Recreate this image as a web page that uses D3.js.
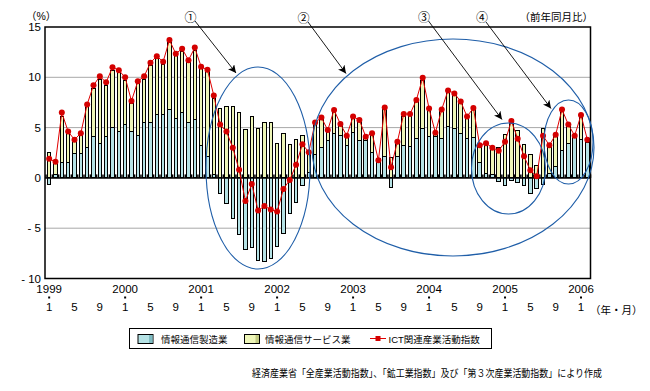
<!DOCTYPE html>
<html>
<head>
<meta charset="utf-8">
<script src="https://cdn.jsdelivr.net/npm/d3@7"></script>
<style>
body { margin: 0; background: #fff; }
svg text { font-family: "Liberation Sans", "Noto Sans CJK JP", sans-serif; fill: #000; }
</style>
</head>
<body>
<svg id="chart" width="650" height="391"></svg>
<script>
// monthly categories, Jan 1999 - Feb 2006
const monthList = d3.timeMonth.range(new Date(1999, 0, 1), new Date(2006, 2, 1))
const yTicks = [-10, -5, 0, 5, 10, 15]
const monthTickNumbers = [1, 5, 9]
const seriesNames = ['情報通信製造業', '情報通信サービス業', 'ICT関連産業活動指数']

// 情報通信製造業 (contribution, %)
const manufacturing = [
  -0.66, 0.33, 1.5, 1.5, 2.4, 2.4, 3.0, 4.1, 3.4, 4.1, 5.0, 4.65,
  5.35, 4.65, 4.25, 5.55, 5.55, 6.3, 6.3, 6.8, 5.9, 6.5, 5.55, 5.8,
  3.2, 2.15, 0.33, -1.6, -2.5, -4.05, -5.65, -7.1, -6.9, -8.2, -8.3, -8.0,
  -6.8, -5.55, -3.55, -2.4, -0.75, 0.5, 2.3, 3.0, 3.7, 4.45, 4.25, 3.25,
  4.55, 3.75, 3.75, 2.5, 1.6, 2.1, -1.0, 2.1, 3.2, 3.1, 3.95, 4.9,
  4.1, 4.1, 3.9, 5.1, 4.9, 4.4, 3.95, 4.0, 1.5, 0.43, 0.3, -0.4,
  -0.75, -0.3, -0.5, -0.75, -1.55, -1.1, -0.65, 0.4, 1.15, 2.7, 3.45, 4.2,
  3.8, 3.55
]
// 情報通信サービス業 (contribution, %)
const services = [
  2.57, 1.07, 4.6, 2.95, 1.2, 1.9, 4.1, 4.8, 6.4, 5.1, 5.7, 5.85,
  4.35, 2.75, 5.15, 4.25, 5.65, 5.6, 5.0, 6.7, 6.3, 6.1, 5.95, 6.9,
  7.7, 8.5, 7.6, 6.9, 7.1, 7.1, 6.5, 4.8, 6.1, 4.95, 5.5, 5.5,
  3.45, 4.45, 3.35, 3.8, 4.25, 2.2, 3.0, 2.8, 0.9, 2.15, 0.95, 0.75,
  1.35, 1.85, 0.25, 1.8, 0.3, 4.7, 2.0, 1.35, 2.9, 3.1, 3.65, 4.8,
  2.6, 0.3, 2.7, 3.4, 3.3, 3.0, 1.95, 2.8, 1.6, 3.07, 2.8, 3.0,
  4.3, 5.8, 4.7, 3.3, 2.3, 1.2, 4.9, 3.0, 3.05, 4.0, 1.75, 0.05,
  2.3, 0.15
]
// ICT関連産業活動指数 (前年同月比, %)
const ictIndex = [
  1.9, 1.6, 6.5, 4.6, 3.8, 4.45, 7.3, 9.2, 10.1, 9.5, 11.0, 10.7,
  10.0, 7.65, 9.6, 10.1, 11.45, 12.1, 11.55, 13.7, 12.35, 12.85, 11.7, 12.95,
  11.05, 10.75, 8.2, 5.3, 4.6, 3.0, 0.8, -2.3, -0.6, -3.25, -2.8, -3.15,
  -3.35, -1.1, -0.2, 1.3, 3.35, 2.55, 5.5, 6.0, 4.75, 6.75, 5.35, 4.2,
  6.1, 5.75, 4.1, 4.45, 1.75, 7.0, 1.05, 3.6, 6.35, 6.35, 7.75, 9.95,
  6.9, 4.5, 6.8, 8.7, 8.4, 7.6, 6.1, 6.95, 3.25, 3.45, 3.0, 2.7,
  3.6, 5.65, 3.9, 2.15, 0.75, 0.16, 4.2, 3.25, 4.3, 6.8, 5.3, 4.2,
  6.25, 3.8
]

const width = 650
const height = 391
const margin = {top: 27, right: 59.5, bottom: 112.5, left: 45}
const plotRight = width - margin.right
const plotBottom = height - margin.bottom
const blueFill = '#b5e2e5'
const yellowFill = '#eef6b8'
const redLine = '#e00000'
const ellipseColor = '#1f5ea8'

let svg = d3.select('#chart')

let x = d3.scaleBand()
  .domain(d3.range(monthList.length))
  .range([margin.left + 1, plotRight])
  .paddingInner(0.45)
  .paddingOuter(0.225)
let y = d3.scaleLinear()
  .domain([-10, 15])
  .range([plotBottom, margin.top])
let cx = i => x(i) + x.bandwidth() / 2

// gridlines
svg.append('g')
  .selectAll('line')
  .data([-5, 5, 10])
  .enter()
  .append('line')
  .attr('x1', margin.left)
  .attr('x2', plotRight)
  .attr('y1', d => y(d))
  .attr('y2', d => y(d))
  .style('stroke', '#a8a8a8')
  .style('stroke-width', 1)

// stacked bars
let bars = svg.append('g')
  .attr('shape-rendering', 'crispEdges')
bars.selectAll('.maker')
  .data(manufacturing)
  .enter()
  .append('rect')
  .classed('maker', true)
  .attr('x', (d, i) => x(i))
  .attr('width', x.bandwidth())
  .attr('y', d => y(Math.max(d, 0)))
  .attr('height', d => Math.abs(y(d) - y(0)))
  .style('fill', blueFill)
  .style('stroke', '#000')
  .style('stroke-width', 1)
bars.selectAll('.service')
  .data(services)
  .enter()
  .append('rect')
  .classed('service', true)
  .attr('x', (d, i) => x(i))
  .attr('width', x.bandwidth())
  .attr('y', (d, i) => y(Math.max(manufacturing[i], 0) + d))
  .attr('height', d => y(0) - y(d))
  .style('fill', yellowFill)
  .style('stroke', '#000')
  .style('stroke-width', 1)

// zero line with small category ticks
svg.append('line')
  .attr('x1', margin.left)
  .attr('x2', plotRight)
  .attr('y1', y(0))
  .attr('y2', y(0))
  .style('stroke', '#000')
  .style('stroke-width', 1.5)
svg.append('g')
  .selectAll('line')
  .data(d3.range(monthList.length + 1))
  .enter()
  .append('line')
  .attr('x1', i => x.range()[0] + i * x.step())
  .attr('x2', i => x.range()[0] + i * x.step())
  .attr('y1', y(0))
  .attr('y2', y(0) - 3.5)
  .style('stroke', '#000')
  .style('stroke-width', 1.5)

// index line
svg.append('path')
  .datum(ictIndex)
  .attr('d', d3.line().x((d, i) => cx(i)).y(d => y(d)))
  .style('fill', 'none')
  .style('stroke', redLine)
  .style('stroke-width', 1)
svg.append('g')
  .selectAll('circle')
  .data(ictIndex)
  .enter()
  .append('circle')
  .attr('cx', (d, i) => cx(i))
  .attr('cy', d => y(d))
  .attr('r', 3)
  .style('fill', '#d40000')

// frame
svg.append('rect')
  .attr('x', margin.left)
  .attr('y', margin.top)
  .attr('width', plotRight - margin.left)
  .attr('height', plotBottom - margin.top)
  .style('fill', 'none')
  .style('stroke', '#000')
  .style('stroke-width', 1.5)

// y axis
let yAxis = svg.append('g')
  .attr('transform', `translate(${margin.left},0)`)
  .call(d3.axisLeft(y).tickValues(yTicks).tickSize(0).tickPadding(4)
    .tickFormat(d => d < 0 ? '- ' + (-d) : d))
yAxis.select('.domain').remove()
yAxis.selectAll('text').style('font-size', '11.5px').style('font-family', '"Liberation Sans", sans-serif')

// x axis: years and months
let janIdx = d3.range(monthList.length).filter(i => monthList[i].getMonth() === 0)
let monthIdx = d3.range(monthList.length).filter(i => monthTickNumbers.includes(monthList[i].getMonth() + 1))
let yearAxis = svg.append('g')
  .attr('transform', `translate(0,${plotBottom + 4})`)
  .call(d3.axisBottom(x).tickValues(janIdx).tickSize(0).tickPadding(2)
    .tickFormat(i => monthList[i].getFullYear()))
let monthAxis = svg.append('g')
  .attr('transform', `translate(0,${plotBottom + 22})`)
  .call(d3.axisBottom(x).tickValues(monthIdx).tickSize(0).tickPadding(2)
    .tickFormat(i => monthList[i].getMonth() + 1))
yearAxis.select('.domain').remove()
monthAxis.select('.domain').remove()
svg.selectAll('.tick text').style('font-size', '11.5px').style('font-family', '"Liberation Sans", sans-serif')
svg.append('g')
  .selectAll('rect')
  .data(janIdx)
  .enter()
  .append('rect')
  .attr('x', i => cx(i) - 1)
  .attr('y', plotBottom + 18)
  .attr('width', 2)
  .attr('height', 2)
  .style('fill', '#000')
svg.append('text')
  .attr('x', 590)
  .attr('y', plotBottom + 35)
  .style('font-size', '10.5px')
  .text('（年・月）')

// unit labels
svg.append('text')
  .attr('x', 26)
  .attr('y', 20)
  .style('font-size', '10.5px')
  .text('（%）')
svg.append('text')
  .attr('x', 593)
  .attr('y', 21)
  .attr('text-anchor', 'end')
  .style('font-size', '10.5px')
  .text('（前年同月比）')

// highlighted periods
let ellipses = [
  {cx: 258, cy: 168, rx: 52, ry: 101},
  {cx: 453, cy: 147.5, rx: 141, ry: 108.5},
  {cx: 508.5, cy: 168.5, rx: 37, ry: 45.5},
  {cx: 568.5, cy: 142, rx: 24.5, ry: 42}
]
svg.append('g')
  .selectAll('ellipse')
  .data(ellipses)
  .enter()
  .append('ellipse')
  .attr('cx', d => d.cx)
  .attr('cy', d => d.cy)
  .attr('rx', d => d.rx)
  .attr('ry', d => d.ry)
  .style('fill', 'none')
  .style('stroke', ellipseColor)
  .style('stroke-width', 1.1)

svg.append('defs')
  .append('marker')
  .attr('id', 'arrow')
  .attr('markerUnits', 'userSpaceOnUse')
  .attr('markerWidth', 9)
  .attr('markerHeight', 8)
  .attr('refX', 8)
  .attr('refY', 4)
  .attr('orient', 'auto')
  .append('path')
  .attr('d', 'M0,0 L8,4 L0,8 L2,4 z')
  .style('fill', '#000')

let callouts = [
  {label: '①', tx: 190.5, ty: 22, x1: 195, y1: 21, x2: 236, y2: 73},
  {label: '②', tx: 303.5, ty: 23, x1: 308, y1: 22, x2: 346, y2: 73.5},
  {label: '③', tx: 424, ty: 22, x1: 428.5, y1: 21, x2: 502, y2: 119.5},
  {label: '④', tx: 482, ty: 22, x1: 486, y1: 22, x2: 551, y2: 108.5}
]
let callout = svg.append('g')
callout.selectAll('line')
  .data(callouts)
  .enter()
  .append('line')
  .attr('x1', d => d.x1)
  .attr('y1', d => d.y1)
  .attr('x2', d => d.x2)
  .attr('y2', d => d.y2)
  .attr('marker-end', 'url(#arrow)')
  .style('stroke', '#000')
  .style('stroke-width', 0.9)
callout.selectAll('text')
  .data(callouts)
  .enter()
  .append('text')
  .attr('x', d => d.tx)
  .attr('y', d => d.ty)
  .attr('text-anchor', 'middle')
  .style('font-size', '12px')
  .style('font-family', '"Noto Sans CJK JP", sans-serif')
  .text(d => d.label)

// legend
let legend = svg.append('g')
legend.append('rect')
  .attr('x', 129.5)
  .attr('y', 328.5)
  .attr('width', 362)
  .attr('height', 20)
  .style('fill', '#fff')
  .style('stroke', '#000')
  .style('stroke-width', 1)
let swatches = [
  {x: 138, fill: blueFill, shade: '#7fbcc2', label: seriesNames[0], tx: 161},
  {x: 244.5, fill: yellowFill, shade: '#c3cb82', label: seriesNames[1], tx: 265}
]
swatches.forEach(s => {
  legend.append('rect')
    .attr('x', s.x)
    .attr('y', 334.5)
    .attr('width', 15)
    .attr('height', 9)
    .style('fill', s.fill)
    .style('stroke', '#000')
  legend.append('rect')
    .attr('x', s.x + 11)
    .attr('y', 335)
    .attr('width', 3.5)
    .attr('height', 8)
    .style('fill', s.shade)
  legend.append('text')
    .attr('x', s.tx)
    .attr('y', 342.5)
    .style('font-size', '9.5px')
    .text(s.label)
})
legend.append('line')
  .attr('x1', 370)
  .attr('x2', 386)
  .attr('y1', 338.5)
  .attr('y2', 338.5)
  .style('stroke', redLine)
legend.append('rect')
  .attr('x', 375.5)
  .attr('y', 336)
  .attr('width', 5)
  .attr('height', 5)
  .style('fill', '#d40000')
legend.append('text')
  .attr('x', 388.5)
  .attr('y', 342.5)
  .style('font-size', '9.5px')
  .text(seriesNames[2])

// source note
svg.append('text')
  .attr('x', 602)
  .attr('y', 377)
  .attr('text-anchor', 'end')
  .attr('textLength', 350)
  .attr('lengthAdjust', 'spacingAndGlyphs')
  .style('font-size', '10px')
  .text('経済産業省「全産業活動指数」、「鉱工業指数」及び「第３次産業活動指数」により作成')
</script>
</body>
</html>
